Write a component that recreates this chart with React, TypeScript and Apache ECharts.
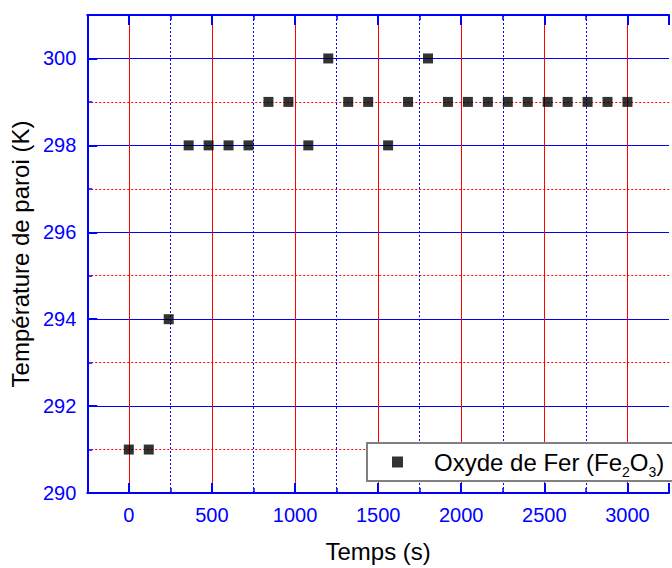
import React, { useEffect, useRef } from "react";
import * as echarts from "echarts";

// ---- data ----
const timeS = [0, 120, 240, 360, 480, 600, 720, 840, 960, 1080, 1200, 1320, 1440, 1560, 1680, 1800, 1920, 2040, 2160, 2280, 2400, 2520, 2640, 2760, 2880, 3000];
const tempK = [291, 291, 294, 298, 298, 298, 298, 299, 299, 298, 300, 299, 299, 298, 299, 300, 299, 299, 299, 299, 299, 299, 299, 299, 299, 299];
const xTickLabels = [0, 500, 1000, 1500, 2000, 2500, 3000];
const yTickLabels = [290, 292, 294, 296, 298, 300];
const xRange = [-250, 3250];
const yRange = [290, 301];
const seriesName = "Oxyde de Fer (Fe2O3)";
const xTitle = "Temps (s)";
const yTitle = "Température de paroi (K)";

const BLUE = "#0000FF";
const RED = "#FF0000";
const FONT = "'Liberation Sans', Arial, sans-serif";

export default function App() {
  const ref = useRef<HTMLDivElement>(null);
  useEffect(() => {
    if (!ref.current) return;
    const chart = echarts.init(ref.current, undefined, { renderer: "svg" });
    const xBase: any = {
      type: "value",
      min: xRange[0],
      max: xRange[1],
      splitNumber: 7,
      axisLine: { show: true, onZero: false, lineStyle: { color: BLUE, width: 2 } },
      axisTick: { show: true, inside: true, length: 10, lineStyle: { color: BLUE, width: 2 } },
      minorTick: { show: true, splitNumber: 2, length: 5, lineStyle: { color: BLUE, width: 1.5 } },
    };
    chart.setOption({
      animation: false,
      backgroundColor: "#fff",
      grid: { left: 86, top: 15, bottom: 74, right: -9.5, containLabel: false },
      xAxis: [
        {
          ...xBase,
          position: "bottom",
          name: xTitle,
          nameLocation: "middle",
          nameGap: 46,
          nameTextStyle: { color: "#000", fontSize: 24, fontFamily: FONT },
          axisLabel: {
            color: BLUE,
            fontSize: 20,
            fontFamily: FONT,
            margin: 12,
            formatter: (v: number) => (xTickLabels.includes(v) ? String(v) : ""),
          },
          splitLine: { show: true, showMinLine: false, showMaxLine: false, lineStyle: { color: RED, width: 1, type: "solid" } },
          minorSplitLine: { show: true, lineStyle: { color: BLUE, width: 1, type: [2, 2] } },
        },
        {
          ...xBase,
          position: "top",
          axisLabel: { show: false },
          splitLine: { show: false },
          minorSplitLine: { show: false },
        },
      ],
      yAxis: [
        {
          type: "value",
          min: yRange[0],
          max: yRange[1],
          splitNumber: 5,
          position: "left",
          name: yTitle,
          nameLocation: "middle",
          nameGap: 52,
          nameTextStyle: { color: "#000", fontSize: 24, fontFamily: FONT },
          axisLine: { show: true, onZero: false, lineStyle: { color: BLUE, width: 2 } },
          axisTick: { show: true, inside: true, length: 10, lineStyle: { color: BLUE, width: 2 } },
          minorTick: { show: true, splitNumber: 2, length: 5, lineStyle: { color: BLUE, width: 1.5 } },
          axisLabel: {
            color: BLUE,
            fontSize: 20,
            fontFamily: FONT,
            margin: 11,
            formatter: (v: number) => (yTickLabels.includes(v) ? String(v) : ""),
          },
          splitLine: { show: true, showMinLine: false, showMaxLine: false, lineStyle: { color: BLUE, width: 1, type: "solid" } },
          minorSplitLine: { show: true, lineStyle: { color: RED, width: 1, type: [2, 2] } },
        },
      ],
      legend: {
        show: true,
        left: 367,
        top: 443,
        orient: "horizontal",
        padding: [2, 40, 2, 25],
        backgroundColor: "#fff",
        borderColor: "#808080",
        borderWidth: 2,
        borderRadius: 0,
        itemWidth: 11,
        itemHeight: 11,
        icon: "rect",
        selectedMode: false,
        data: [seriesName],
        formatter: () => "{sp|\u00a0}{a|Oxyde de Fer (Fe}{s|2}{a|O}{s|3}{a|)}",
        textStyle: {
          color: "#000",
          fontFamily: FONT,
          fontSize: 24,
          rich: {
            sp: { width: 26, fontSize: 24, lineHeight: 26 },
            a: { fontSize: 24, lineHeight: 26, fontFamily: FONT, color: "#000" },
            s: { fontSize: 14, lineHeight: 14, fontFamily: FONT, color: "#000", padding: [20, 0, 0, 0] },
          },
        },
      },
      series: [
        {
          type: "scatter",
          name: seriesName,
          xAxisIndex: 0,
          yAxisIndex: 0,
          symbol: "rect",
          symbolSize: 10,
          itemStyle: { color: "#000" },
          data: timeS.map((t, i) => [t, tempK[i]]),
          z: 5,
        },
      ],
    });
    return () => chart.dispose();
  }, []);
  return <div ref={ref} style={{ position: "absolute", left: 0, top: 0, width: 672, height: 568 }} />;
}
